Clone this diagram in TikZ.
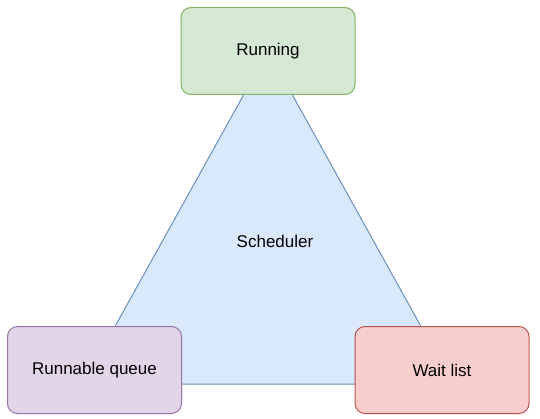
\documentclass[tikz,border=0pt]{standalone}
\usepackage{fontspec}
\setmainfont{Liberation Sans}
\usetikzlibrary{positioning,backgrounds}

\definecolor{greenfill}{HTML}{D5E8D4}
\definecolor{greenline}{HTML}{82B366}
\definecolor{purplefill}{HTML}{E1D5E7}
\definecolor{purpleline}{HTML}{9673A6}
\definecolor{redfill}{HTML}{F8CECC}
\definecolor{redline}{HTML}{B85450}
\definecolor{bluefill}{HTML}{DAE8FC}
\definecolor{blueline}{HTML}{6C8EBF}

\begin{document}
\begin{tikzpicture}[
    x=1pt, y=-1pt,
    every node/.style={
        font=\fontsize{17pt}{20pt}\selectfont
    },
    state/.style={
        rectangle, rounded corners=10pt,
        line width=1pt,
        minimum width=174pt,
        minimum height=87pt,
        align=center
    }
]
\useasboundingbox (0,0) rectangle (540,419);
% scheduler triangle behind the states
\coordinate (top)   at (268,51);
\coordinate (left)  at (83,384);
\coordinate (right) at (453,384);
\draw[fill=bluefill, draw=blueline, line width=1pt]
    (top) -- (right) -- (left) -- cycle;
\node (scheduler) at (275,241) {Scheduler};
% states
\node[state, fill=greenfill, draw=greenline]   (running)  at (268,51)    {Running};
\node[state, fill=purplefill, draw=purpleline] (runnable) at (94.5,370)  {Runnable queue};
\node[state, fill=redfill, draw=redline]       (waitlist) at (442,370)   {Wait list};
\end{tikzpicture}
\end{document}
